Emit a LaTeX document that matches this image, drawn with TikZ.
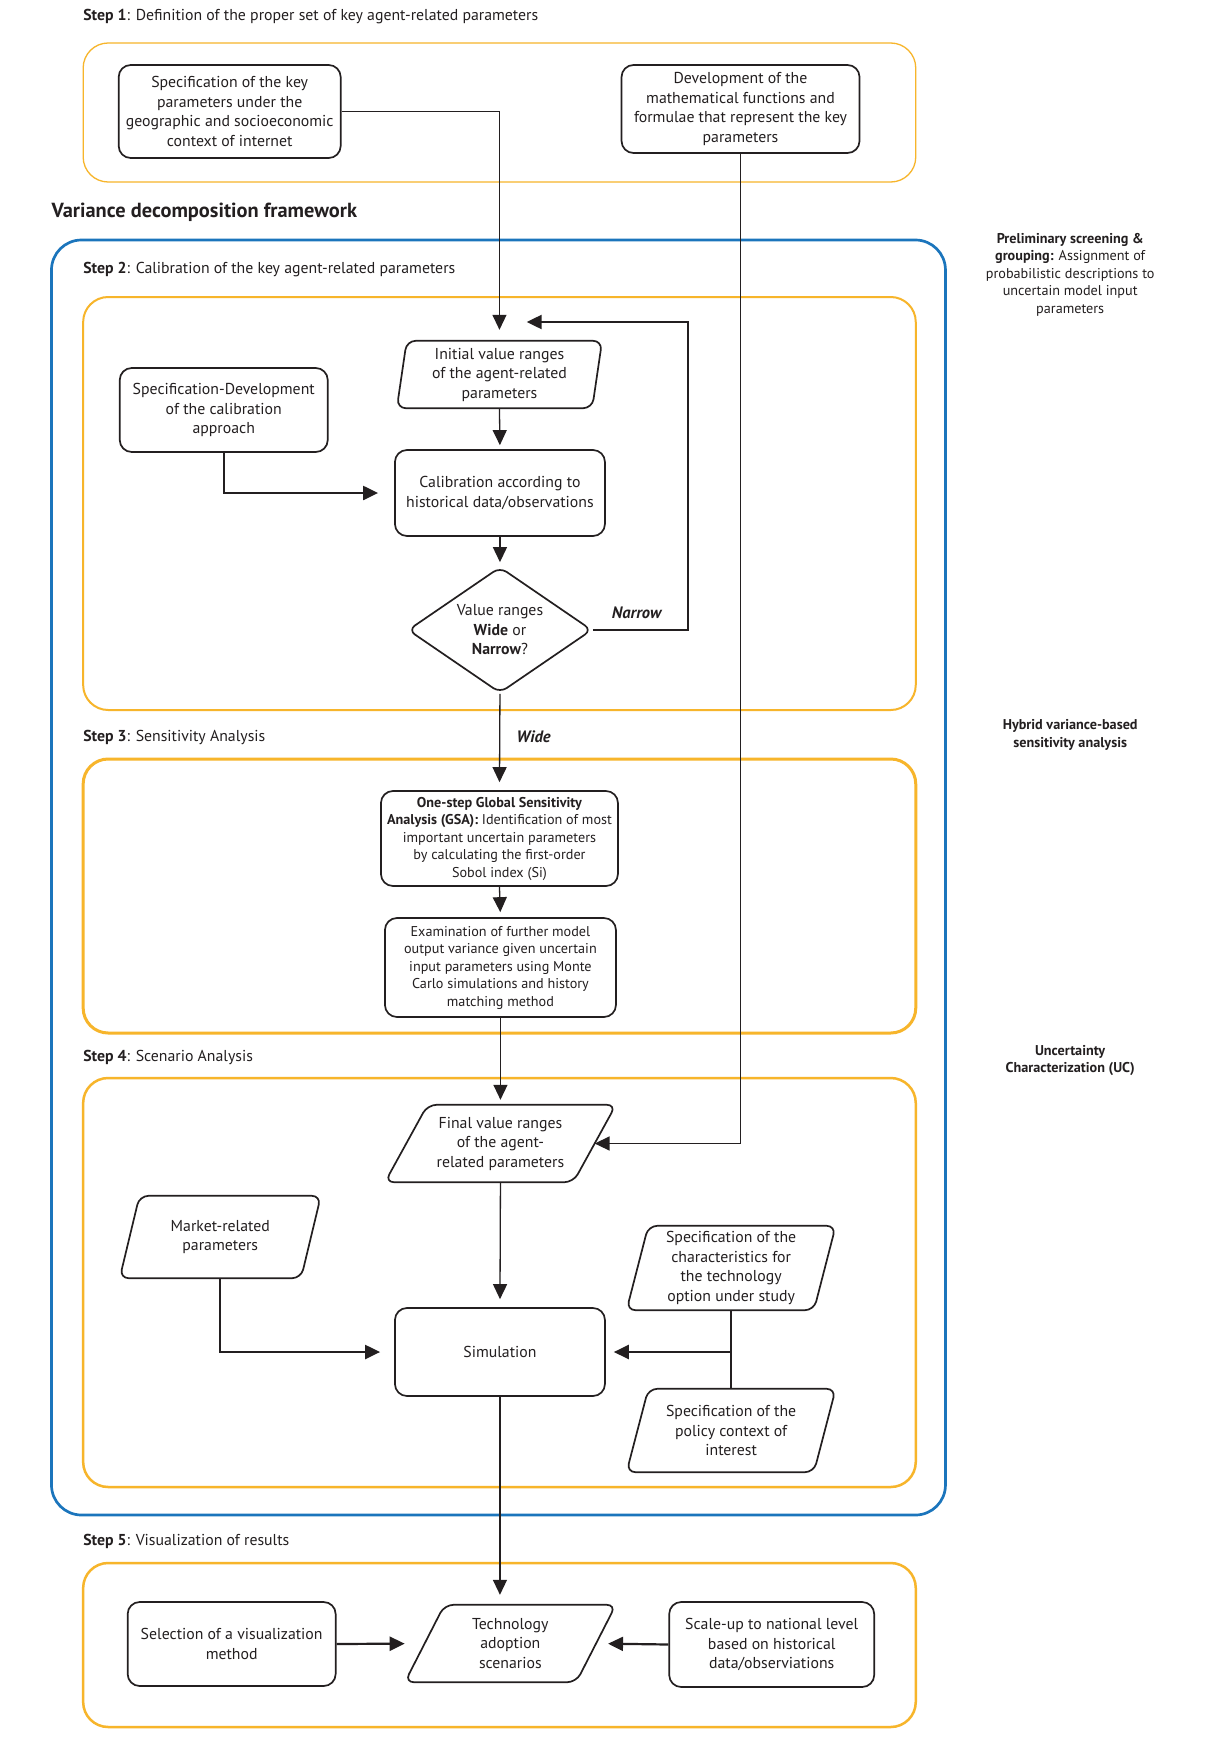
\documentclass[tikz,border=0pt]{standalone}
\usepackage{fontspec}
\setmainfont{PT Sans}
\usetikzlibrary{arrows.meta,shapes.geometric,calc}
\definecolor{org}{HTML}{F7B52B}
\definecolor{blu}{HTML}{1B75BC}
\definecolor{ink}{HTML}{231F20}
\tikzset{
  rbox/.style={draw=ink, line width=1.7pt, rounded corners=12pt, align=center, inner sep=0pt, text=ink, font=\fontsize{15.8}{19.5}\selectfont},
  sbox/.style={rbox, font=\fontsize{14.2}{17.5}\selectfont},
  pbox/.style={align=center, inner sep=0pt, text=ink, font=\fontsize{15.8}{19.5}\selectfont},
  pline/.style={draw=ink, line width=1.7pt, rounded corners=9pt},
  conn/.style={draw=ink, line width=1.3pt},
  connm/.style={draw=ink, line width=1.6pt},
  connb/.style={draw=ink, line width=2.2pt},
  tip/.style={-{Triangle[length=15pt,width=14pt]}},
  grp/.style={draw=org, rounded corners=25pt},
  steplabel/.style={anchor=west, text=ink, font=\fontsize{15.8}{20}\selectfont, inner sep=0pt},
  sidelabel/.style={align=center, text=ink, font=\fontsize{14.2}{17.5}\selectfont, inner sep=0pt},
  edgelabel/.style={text=ink, font=\fontsize{16.5}{20}\selectfont\bfseries\itshape, inner sep=0pt},
}
\newcommand\drawpara[2]{\draw[pline] ($(#1.north west)+(#2/2,0)$) -- ($(#1.north east)+(#2/2,0)$) -- ($(#1.south east)-(#2/2,0)$) -- ($(#1.south west)-(#2/2,0)$) -- cycle;}
\begin{document}
\begin{tikzpicture}[x=0.99pt,y=-1pt]
\useasboundingbox (0,0) rectangle (1224.24,1737);
\fill[white] (0,0) rectangle (1224.24,1737);

% group frames
\draw[grp, line width=1.3pt] (84,43) rectangle (925,182);
\draw[draw=blu, line width=2.7pt, rounded corners=30pt] (52,240) rectangle (955,1515);
\draw[grp, line width=2pt] (84,297) rectangle (925,710);
\draw[grp, line width=3pt] (84,759) rectangle (925,1033);
\draw[grp, line width=2.5pt] (84,1078) rectangle (925,1487);
\draw[grp, line width=2.5pt] (84,1563) rectangle (925,1727);

% labels
\node[steplabel] (s1) at (84,17) {\textbf{Step 1}: Definition of the proper set of key agent-related parameters};
\node[steplabel, font=\fontsize{20.4}{24}\selectfont\bfseries] (vdf) at (52,212) {Variance decomposition framework};
\node[steplabel] (s2) at (84,270) {\textbf{Step 2}: Calibration of the key agent-related parameters};
\node[steplabel] (s3) at (84,737) {\textbf{Step 3}: Sensitivity Analysis};
\node[steplabel] (s4) at (84,1057) {\textbf{Step 4}: Scenario Analysis};
\node[steplabel] (s5) at (84,1541) {\textbf{Step 5}: Visualization of results};

\node[sidelabel] (sl1) at (1081,274.5) {\textbf{Preliminary screening \&}\\\textbf{grouping:} Assignment of\\probabilistic descriptions to\\uncertain model input\\parameters};
\node[sidelabel] (sl2) at (1081,735) {\textbf{Hybrid variance-based}\\\textbf{sensitivity analysis}};
\node[sidelabel] (sl3) at (1081,1060.5) {\textbf{Uncertainty}\\\textbf{Characterization (UC)}};

% step 1 nodes
\node[rbox, minimum width=222pt, minimum height=93pt] (A) at (232,111.5) {Specification of the key\\parameters under the\\geographic and socioeconomic\\context of internet};
\node[rbox, minimum width=238pt, minimum height=88pt] (B) at (748,109) {Development of the\\mathematical functions and\\formulae that represent the key\\parameters};

% step 2 nodes
\node[pbox, minimum width=195pt, minimum height=67pt] (init) at (504.5,374.5) {Initial value ranges\\of the agent-related\\parameters};
\drawpara{init}{10}
\node[rbox, minimum width=208pt, minimum height=84pt] (specdev) at (226,410) {Specification-Development\\of the calibration\\approach};
\node[rbox, minimum width=210pt, minimum height=86pt] (calib) at (505,493) {Calibration according to\\historical data/observations};
\node[draw=ink, line width=1.7pt, diamond, aspect=1.476, minimum width=184pt, minimum height=126pt, rounded corners=8pt, align=center, inner sep=0pt, text=ink, font=\fontsize{15.8}{19.5}\selectfont] (dia) at (505,630) {Value ranges\\\textbf{Wide} or\\\textbf{Narrow}?};
\coordinate (narrowend) at (532,322);

% step 3 nodes
\node[sbox, minimum width=237pt, minimum height=95pt] (gsa) at (504.5,838.5) {\textbf{One-step Global Sensitivity}\\\textbf{Analysis (GSA):} Identification of most\\important uncertain parameters\\by calculating the first-order\\Sobol index (Si)};
\node[sbox, minimum width=231pt, minimum height=99pt] (exam) at (505.5,967.5) {Examination of further model\\output variance given uncertain\\input parameters using Monte\\Carlo simulations and history\\matching method};

% step 4 nodes
\node[pbox, minimum width=188pt, minimum height=77pt] (final) at (505.5,1143.5) {Final value ranges\\of the agent-\\related parameters};
\drawpara{final}{43}
\node[pbox, minimum width=181pt, minimum height=82pt] (market) at (222.5,1237) {Market-related\\parameters};
\drawpara{market}{20}
\node[pbox, minimum width=187pt, minimum height=84pt] (char) at (738.5,1268) {Specification of the\\characteristics for\\the technology\\option under study};
\drawpara{char}{22}
\node[pbox, minimum width=187pt, minimum height=83pt] (policy) at (738.5,1430.5) {Specification of the\\policy context of\\interest};
\drawpara{policy}{22}
\node[rbox, minimum width=210pt, minimum height=88pt] (sim) at (505,1352) {Simulation};
\coordinate (jn) at (char.south |- sim.east);

% step 5 nodes
\node[rbox, minimum width=208pt, minimum height=84pt] (sel) at (234,1644) {Selection of a visualization\\method};
\node[pbox, minimum width=171pt, minimum height=77pt] (tech) at (515.5,1643.5) {Technology\\adoption\\scenarios};
\drawpara{tech}{40}
\node[rbox, minimum width=205pt, minimum height=85pt] (scale) at (779.5,1644.5) {Scale-up to national level\\based on historical\\data/observiations};

% connectors
\draw[conn, tip, shorten >=11pt] (A.east) -| (init.north);
\draw[connm, tip] (B.south) |- (final.east);
\draw[conn, tip, shorten >=4pt] (init.south) -- (calib.north);
\draw[connb, tip, shorten >=16pt] (specdev.south) |- (calib.west);
\draw[conn, tip, shorten >=4pt] (calib.south) -- (dia.north);
\draw[connb, tip] (dia.east) -- (695,630) -- (695,322) -- (narrowend);
\node[edgelabel] (lnarrow) at (643,613) {Narrow};
\draw[conn, tip, shorten >=8pt] (dia.south) -- (gsa.north);
\node[edgelabel] (lwide) at (539,737) {Wide};
\draw[conn, tip, shorten >=5pt] (gsa.south) -- (exam.north);
\draw[conn, tip, shorten >=5pt] (exam.south) -- (final.north);
\draw[conn, tip, shorten >=8pt] (final.south) -- (sim.north);
\draw[connb, tip, shorten >=14pt] (market.south) |- (sim.west);
\draw[conn] (char.south) -- (policy.north);
\draw[connb, tip, shorten >=8pt] (jn) -- (sim.east);
\draw[conn, tip, shorten >=10pt] (sim.south) -- (sim.south |- tech.north);
\draw[connb, tip, shorten >=20pt] (sel.east) -- (tech.west);
\draw[connb, tip, shorten >=12pt] (scale.west) -- (tech.east);
\end{tikzpicture}
\end{document}
